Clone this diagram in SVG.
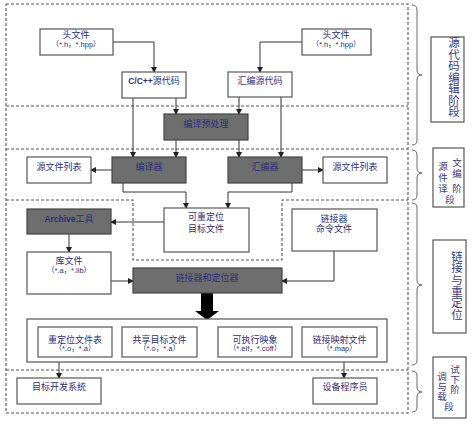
<svg xmlns="http://www.w3.org/2000/svg" width="474" height="426" viewBox="0 0 474 426">
<style>
.bx{fill:#fff;stroke:#555;stroke-width:1.2}
.dk{fill:#6e6e6e;stroke:#444;stroke-width:1.2}
.t{font-family:"Liberation Serif","Noto Sans CJK SC",serif;font-size:9px;fill:#2e2e7a;text-anchor:middle}
.s{font-family:"Liberation Sans","Noto Sans CJK SC",sans-serif;font-size:7.5px;fill:#2e2e7a;text-anchor:middle}
.b{font-family:"Liberation Sans","Noto Sans CJK SC",sans-serif;font-size:8.5px;font-weight:bold;fill:#2e2e7a;text-anchor:middle}
.v{font-family:"Liberation Serif","Noto Sans CJK SC",serif;font-size:11.5px;fill:#3a3a86;text-anchor:middle}
.v2{font-family:"Liberation Serif","Noto Sans CJK SC",serif;font-size:9.5px;fill:#3a3a86;text-anchor:middle}
.dash{fill:none;stroke:#555;stroke-width:1.1;stroke-dasharray:3,2}
.ln{fill:none;stroke:#333;stroke-width:1}
.br{fill:none;stroke:#666;stroke-width:1}
.lb{fill:#fff;stroke:#555;stroke-width:1.2}
</style>
<defs>
<marker id="ah" markerWidth="6" markerHeight="6" refX="5" refY="3" orient="auto" markerUnits="userSpaceOnUse">
<path d="M0,0 L6,3 L0,6 Z" fill="#222"/>
</marker>
</defs>
<g id="regions">
<rect class="dash" x="6" y="4" width="402" height="409"/>
<line class="dash" x1="6" y1="106" x2="408" y2="106"/>
<line class="dash" x1="6" y1="149" x2="408" y2="149"/>
<polyline class="dash" points="6,200 133,200 133,260 282,260 282,200 408,200"/>
<line class="dash" x1="6" y1="370" x2="408" y2="370"/>
</g>
<g id="connectors">
<polyline class="ln" points="113,42 154,42 154,72" marker-end="url(#ah)"/>
<polyline class="ln" points="302,42 260,42 260,72" marker-end="url(#ah)"/>
<line class="ln" x1="176" y1="98" x2="176" y2="114" marker-end="url(#ah)"/>
<line class="ln" x1="133" y1="98" x2="133" y2="157" marker-end="url(#ah)"/>
<line class="ln" x1="239" y1="97" x2="239" y2="114" marker-end="url(#ah)"/>
<line class="ln" x1="281" y1="97" x2="281" y2="157" marker-end="url(#ah)"/>
<line class="ln" x1="176" y1="140" x2="176" y2="157" marker-end="url(#ah)"/>
<line class="ln" x1="239" y1="140" x2="239" y2="157" marker-end="url(#ah)"/>
<line class="ln" x1="112" y1="170" x2="91" y2="170" marker-end="url(#ah)"/>
<line class="ln" x1="302" y1="170" x2="323" y2="170" marker-end="url(#ah)"/>
<polyline class="ln" points="123,183 123,192 186,192 186,208" marker-end="url(#ah)"/>
<polyline class="ln" points="292,183 292,192 228,192 228,208" marker-end="url(#ah)"/>
<line class="ln" x1="164" y1="222" x2="111" y2="222" marker-end="url(#ah)"/>
<line class="ln" x1="69" y1="234" x2="69" y2="252" marker-end="url(#ah)"/>
<line class="ln" x1="111" y1="281" x2="133" y2="281" marker-end="url(#ah)"/>
<polyline class="ln" points="334,251 334,281 282,281" marker-end="url(#ah)"/>
<polygon points="201,293 213,293 213,311 219,311 207,320 195,311 201,311" fill="#000"/>
<line class="ln" x1="59" y1="357" x2="59" y2="378" marker-end="url(#ah)"/>
<line class="ln" x1="344" y1="357" x2="344" y2="378" marker-end="url(#ah)"/>
</g>
<g id="hdrL"><rect class="bx" x="40" y="29" width="73" height="26"/><text class="t" x="76" y="37.5">头文件</text><text class="s" x="76" y="46.5">（*.h，*.hpp）</text></g>
<g id="hdrR"><rect class="bx" x="302" y="29" width="69" height="26"/><text class="t" x="336" y="37.5">头文件</text><text class="s" x="336" y="46.5">（*.h，*.hpp）</text></g>
<g id="cpp"><rect class="bx" x="122" y="72" width="64" height="26"/><text class="b" x="154" y="84">C/C++<tspan class="t" style="font-weight:normal">源代码</tspan></text></g>
<g id="asm"><rect class="bx" x="228" y="72" width="64" height="25"/><text class="t" x="260" y="84">汇编源代码</text></g>
<g id="pre"><rect class="dk" x="164" y="114" width="84" height="26"/><text class="t" x="206" y="126.5">编译预处理</text></g>
<g id="compiler"><rect class="dk" x="112" y="157" width="74" height="26"/><text class="t" x="149" y="169.5">编译器</text></g>
<g id="assembler"><rect class="dk" x="228" y="157" width="74" height="26"/><text class="t" x="265" y="169.5">汇编器</text></g>
<g id="srcL"><rect class="bx" x="27" y="157" width="64" height="26"/><text class="t" x="59" y="169.5">源文件列表</text></g>
<g id="srcR"><rect class="bx" x="323" y="157" width="64" height="26"/><text class="t" x="355" y="169.5">源文件列表</text></g>
<g id="archive"><rect class="dk" x="27" y="209" width="84" height="25"/><text class="b" x="69" y="221.5">Archive<tspan class="t" style="font-weight:normal">工具</tspan></text></g>
<g id="reloc"><rect class="bx" x="164" y="208" width="85" height="44"/><text class="t" x="206" y="219.5">可重定位</text><text class="t" x="206" y="231.5">目标文件</text></g>
<g id="lcmd"><rect class="bx" x="292" y="209" width="85" height="42"/><text class="t" x="334" y="221.5">链接器</text><text class="t" x="334" y="232">命令文件</text></g>
<g id="lib"><rect class="bx" x="27" y="252" width="84" height="42"/><text class="t" x="69" y="263.5">库文件</text><text class="s" x="69" y="273">（*.a，*.lib）</text></g>
<g id="linker"><rect class="dk" x="133" y="268" width="149" height="25"/><text class="t" x="207" y="280.5">链接器和定位器</text></g>
<g id="outputs">
<rect class="bx" x="27" y="319" width="360" height="43"/>
<g id="o1"><rect class="bx" x="38" y="327" width="74" height="30"/><text class="t" x="75" y="343">重定位文件表</text><text class="s" x="75" y="351">（*.o，*.a）</text></g>
<g id="o2"><rect class="bx" x="122" y="327" width="75" height="30"/><text class="t" x="159.5" y="343">共享目标文件</text><text class="s" x="159.5" y="351">（*.o，*.a）</text></g>
<g id="o3"><rect class="bx" x="218" y="327" width="74" height="30"/><text class="t" x="255" y="343">可执行映象</text><text class="s" x="255" y="351">（*.elf，*.coff）</text></g>
<g id="o4"><rect class="bx" x="302" y="327" width="75" height="30"/><text class="t" x="339.5" y="343">链接映射文件</text><text class="s" x="339.5" y="351">（*.map）</text></g>
</g>
<g id="tgt"><rect class="bx" x="17" y="378" width="84" height="26"/><text class="t" x="59" y="390">目标开发系统</text></g>
<g id="dev"><rect class="bx" x="313" y="378" width="64" height="26"/><text class="t" x="345" y="390">设备程序员</text></g>
<g id="braces">
<path class="br" d="M412,5 Q417,5 417,10 L417,70 Q417,75 422,75 Q417,75 417,80 L417,140 Q417,145 412,145"/>
<path class="br" d="M412,150 Q417,150 417,155 L417,168 Q417,173 422,173 Q417,173 417,178 L417,195 Q417,200 412,200"/>
<path class="br" d="M412,203 Q417,203 417,208 L417,280 Q417,285 422,285 Q417,285 417,290 L417,360 Q417,365 412,365"/>
<path class="br" d="M412,371 Q417,371 417,376 L417,387 Q417,392 422,392 Q417,392 417,397 L417,407 Q417,412 412,412"/>
</g>
<g id="stage1"><rect class="lb" x="431" y="37" width="33" height="85"/>
<text class="v"><tspan x="454" y="47">源</tspan><tspan x="454" y="58.5">代</tspan><tspan x="454" y="70">码</tspan><tspan x="454" y="81.5">编</tspan><tspan x="454" y="93">辑</tspan><tspan x="454" y="104.5">阶</tspan><tspan x="454" y="116">段</tspan></text></g>
<g id="stage2"><rect class="lb" x="433" y="148" width="31" height="59"/>
<text class="v2"><tspan x="457" y="166">文</tspan><tspan x="443" y="170">源</tspan><tspan x="457" y="177">编</tspan><tspan x="443" y="181">件</tspan><tspan x="443" y="192">译</tspan><tspan x="457" y="192">阶</tspan><tspan x="450" y="203">段</tspan></text></g>
<g id="stage3"><rect class="lb" x="433" y="240" width="33" height="93"/>
<text class="v"><tspan x="457" y="261">链</tspan><tspan x="457" y="272">接</tspan><tspan x="457" y="284">与</tspan><tspan x="457" y="296">重</tspan><tspan x="457" y="307">定</tspan><tspan x="457" y="319">位</tspan></text></g>
<g id="stage4"><rect class="lb" x="433" y="357" width="33" height="61"/>
<text class="v2"><tspan x="455" y="373">试</tspan><tspan x="442" y="380">调</tspan><tspan x="455" y="383">下</tspan><tspan x="442" y="390">与</tspan><tspan x="455" y="393">阶</tspan><tspan x="442" y="400">载</tspan><tspan x="449" y="410">段</tspan></text></g>
</svg>
